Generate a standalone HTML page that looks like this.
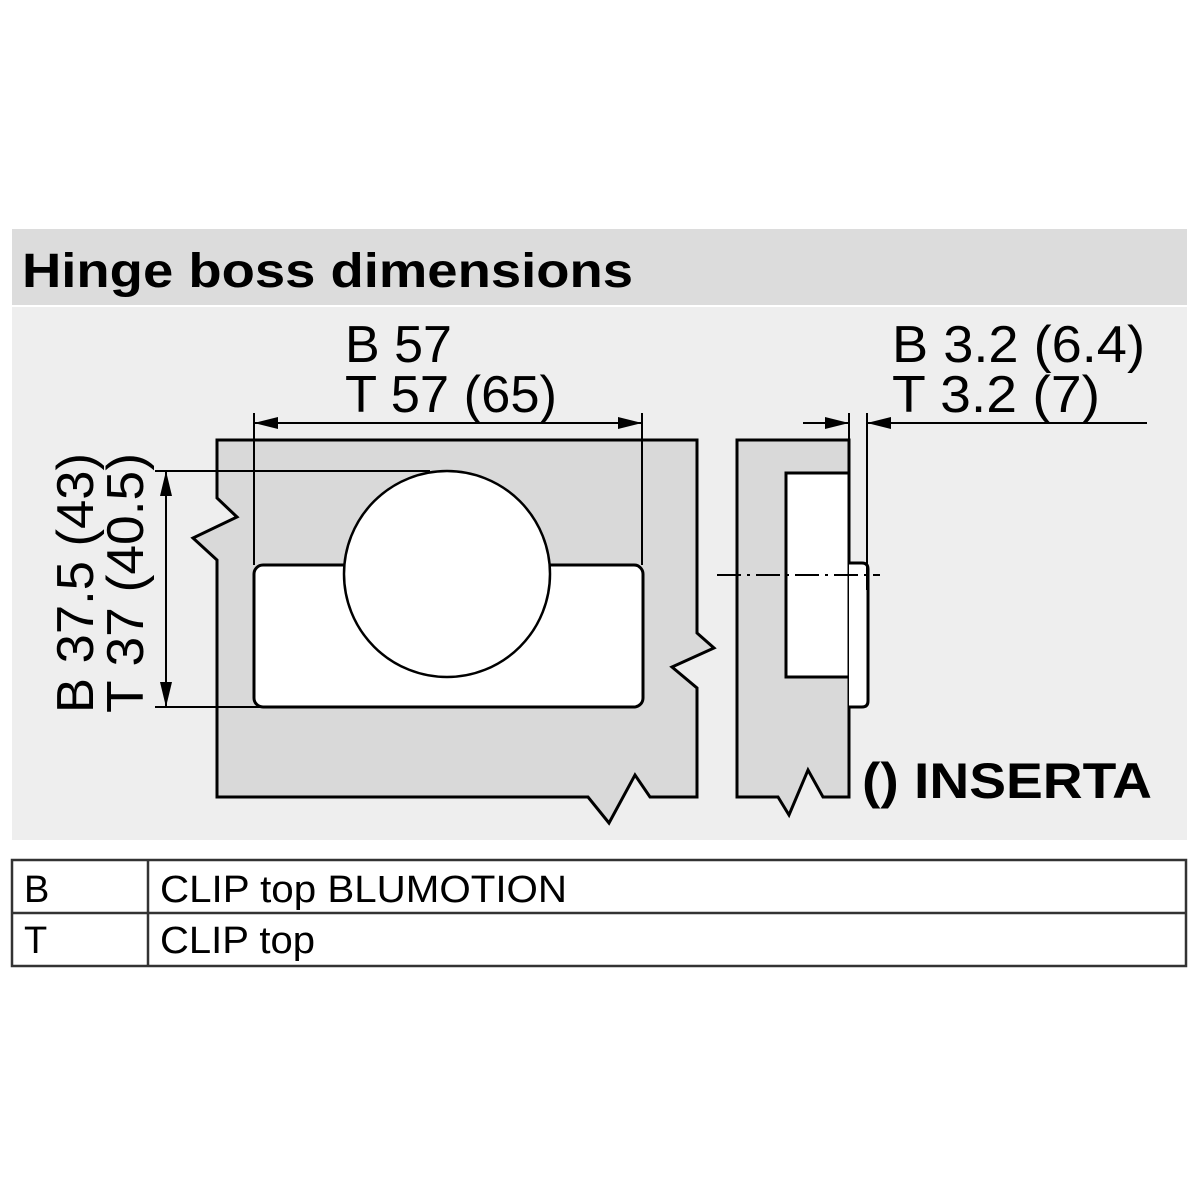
<!DOCTYPE html>
<html><head><meta charset="utf-8"><style>
html,body{margin:0;padding:0;background:#fff;}
svg{display:block;}
text{font-family:"Liberation Sans",Arial,sans-serif;fill:#000;}
</style></head><body>
<svg width="1200" height="1200" viewBox="0 0 1200 1200" xmlns="http://www.w3.org/2000/svg">
<rect x="0" y="0" width="1200" height="1200" fill="#fff"/>
<rect x="12" y="229" width="1175" height="76" fill="#dcdcdc"/>
<rect x="12" y="307" width="1175" height="533" fill="#eeeeee"/>
<text x="22" y="287" font-size="48" font-weight="bold" textLength="611" lengthAdjust="spacingAndGlyphs">Hinge boss dimensions</text>

<g stroke="#000" stroke-width="3" fill="none" stroke-linejoin="miter">
<!-- main panel -->
<path d="M217,440 L697,440 L697,633 L714,648 L672,667 L697,688 L697,797 L650,797 L635,775 L609,823 L588,797 L217,797 L217,560 L193,538 L237,517 L217,498 Z" fill="#d9d9d9"/>
<rect x="254" y="565" width="389" height="142" rx="9" fill="#fff"/>
<circle cx="447" cy="574" r="103" fill="#fff" stroke-width="2.5"/>
<!-- side panel -->
<path d="M737,440 L849,440 L849,797 L823,797 L808,770 L789,815 L778,797 L737,797 Z" fill="#d9d9d9"/>
<rect x="786" y="473" width="63" height="204" fill="#fff"/>
<path d="M849,563 L862,563 Q868,563 868,569 L868,701 Q868,707 862,707 L849,707" fill="#fff"/>
</g>

<g stroke="#000" stroke-width="2" fill="none">
<!-- horizontal dim -->
<line x1="254" y1="413" x2="254" y2="565"/>
<line x1="642" y1="413" x2="642" y2="565"/>
<line x1="254" y1="423" x2="642" y2="423"/>
<!-- vertical dim -->
<line x1="155" y1="471" x2="430" y2="471"/>
<line x1="155" y1="707" x2="290" y2="707"/>
<line x1="166" y1="471" x2="166" y2="707"/>
<!-- side dim -->
<line x1="849" y1="413" x2="849" y2="440"/>
<line x1="867" y1="413" x2="867" y2="590"/>
<line x1="803" y1="423" x2="849" y2="423"/>
<line x1="867" y1="423" x2="1147" y2="423"/>
<line x1="717" y1="575" x2="880" y2="575" stroke-dasharray="24,6,3,6"/>
</g>
<g fill="#000">
<polygon points="254,423 278,417 278,429"/>
<polygon points="642,423 618,417 618,429"/>
<polygon points="166,471 160,496 172,496"/>
<polygon points="166,707 160,682 172,682"/>
<polygon points="849,423 825,417 825,429"/>
<polygon points="867,423 891,417 891,429"/>
</g>

<text x="345" y="362" font-size="52" textLength="107" lengthAdjust="spacingAndGlyphs">B 57</text>
<text x="345" y="412" font-size="52" textLength="212" lengthAdjust="spacingAndGlyphs">T 57 (65)</text>
<text x="892" y="362" font-size="52" textLength="253" lengthAdjust="spacingAndGlyphs">B 3.2 (6.4)</text>
<text x="892" y="412" font-size="52" textLength="208" lengthAdjust="spacingAndGlyphs">T 3.2 (7)</text>
<text transform="translate(93,713) rotate(-90)" font-size="52" textLength="260" lengthAdjust="spacingAndGlyphs">B 37.5 (43)</text>
<text transform="translate(143,713) rotate(-90)" font-size="52" textLength="260" lengthAdjust="spacingAndGlyphs">T 37 (40.5)</text>
<text x="862" y="798" font-size="50" font-weight="bold" textLength="290" lengthAdjust="spacingAndGlyphs">() INSERTA</text>

<!-- table -->
<g stroke="#333" stroke-width="2.5" fill="none">
<rect x="12" y="860" width="1174" height="106" fill="#fff"/>
<line x1="12" y1="913" x2="1186" y2="913"/>
<line x1="148" y1="860" x2="148" y2="966"/>
</g>
<text x="24" y="902" font-size="38">B</text>
<text x="160" y="902" font-size="38" textLength="407" lengthAdjust="spacingAndGlyphs">CLIP top BLUMOTION</text>
<text x="24" y="953" font-size="38">T</text>
<text x="160" y="953" font-size="38" textLength="155" lengthAdjust="spacingAndGlyphs">CLIP top</text>
</svg>
</body></html>
